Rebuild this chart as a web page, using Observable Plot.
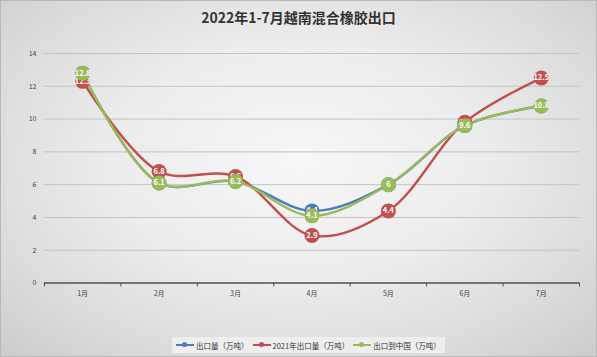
<!DOCTYPE html>
<html><head><meta charset="utf-8">
<script src="https://cdn.jsdelivr.net/npm/d3@7"></script>
<script src="https://cdn.jsdelivr.net/npm/@observablehq/plot@0.6"></script>
<style>
html,body{margin:0;padding:0;}
#wrap{position:relative;width:595px;height:355px;border:1px solid #b8b8b8;
 background:radial-gradient(ellipse 70% 75% at 50% 45%, #f7f7f7 0%, #ececec 45%, #dadada 80%, #cdcdcd 100%);
 font-family:"Noto Sans CJK SC","Noto Sans",sans-serif;overflow:hidden;}
#title{position:absolute;top:6px;left:0;width:595px;text-align:center;font-size:14px;font-weight:bold;color:#333;}
#chart{position:absolute;top:37px;left:-1px;}
#legend{position:absolute;top:336px;left:171px;height:16px;padding:0 4px;background:rgba(240,240,240,0.9);display:flex;align-items:center;font-size:7.5px;color:#333;gap:4px;}
.it{display:flex;align-items:center;}
.sw{position:relative;width:18px;height:2px;margin-right:2px;}
.sw i{position:absolute;left:6px;top:-2px;width:5px;height:5px;border-radius:50%;}
</style></head>
<body>
<div id="wrap">
<div id="title">2022年1-7月越南混合橡胶出口</div>
<div id="chart"></div>
<div id="legend"></div>
</div>
<script>
const months = ["1月","2月","3月","4月","5月","6月","7月"];
const seriesNames = ["出口量（万吨）","2021年出口量（万吨）","出口到中国（万吨）"];
const colors = ["#4a7ebb","#c0504d","#9bbb59"];
const exports2022 = [12.8, 6.1, 6.2, 4.4, 6, 9.6, 10.8];
const exports2021 = [12.3, 6.8, 6.5, 2.9, 4.4, 9.8, 12.5];
const toChina = [12.8, 6.1, 6.2, 4.1, 6, 9.6, 10.8];
const yTicks = [0,2,4,6,8,10,12,14];

const allValues = [exports2022, exports2021, toChina];
const data = [];
allValues.forEach((vals, s) => vals.forEach((v, i) => data.push({s: seriesNames[s], m: i + 1, v})));
const boundaries = d3.range(0.5, months.length + 1, 1);

const marks = [
  Plot.gridY(yTicks, {stroke: "#c4c4c4", strokeOpacity: 1, strokeWidth: 1}),
  Plot.axisY(yTicks, {tickSize: 0, tickPadding: 8, fontSize: 7, fill: "#444", tickFormat: d => d, label: null}),
  Plot.ruleY([0], {stroke: "#555", strokeWidth: 1.5}),
  Plot.axisX(boundaries, {tickSize: 4, tickFormat: () => "", stroke: "#555", tickPadding: 0, label: null}),
  Plot.axisX(d3.range(1, months.length + 1), {tickSize: 0, tickPadding: 8, fontSize: 7, fill: "#444", tickFormat: d => months[d - 1], label: null})
];
seriesNames.forEach((name, s) => {
  const rows = data.filter(d => d.s === name);
  marks.push(Plot.line(rows, {x: "m", y: "v", stroke: colors[s], strokeWidth: 2.4, curve: "catmull-rom"}));
});
seriesNames.forEach((name, s) => {
  const rows = data.filter(d => d.s === name);
  marks.push(Plot.dot(rows, {x: "m", y: "v", r: 7.5, fill: colors[s], stroke: "none"}));
  marks.push(Plot.text(rows, {x: "m", y: "v", text: d => String(d.v), fill: "white", fontSize: 7.5, fontWeight: "bold"}));
});

const plot = Plot.plot({
  width: 597, height: 280,
  marginLeft: 44, marginRight: 17, marginTop: 15, marginBottom: 35,
  style: {background: "transparent", fontFamily: "'Noto Sans CJK SC','Noto Sans',sans-serif"},
  x: {type: "linear", domain: [0.5, months.length + 0.5], axis: null, label: null},
  y: {domain: [0, 14], axis: null, label: null},
  marks
});
document.getElementById("chart").appendChild(plot);

const lg = document.getElementById("legend");
seriesNames.forEach((name, s) => {
  const it = document.createElement("div");
  it.className = "it";
  it.innerHTML = `<span class="sw" style="background:${colors[s]}"><i style="background:${colors[s]}"></i></span><span>${name}</span>`;
  lg.appendChild(it);
});
</script>
</body></html>
